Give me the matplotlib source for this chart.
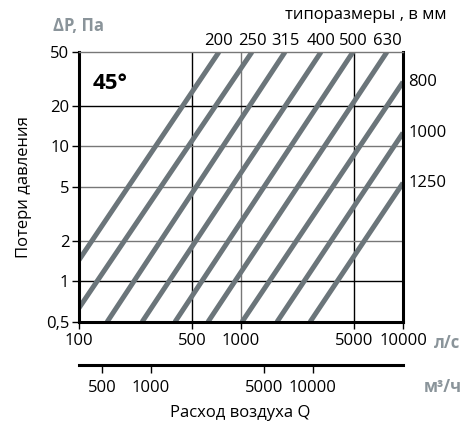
import numpy as np
import matplotlib.pyplot as plt
from matplotlib.ticker import FixedLocator, FixedFormatter, NullLocator

plt.rcParams['font.family'] = ['Open Sans', 'DejaVu Sans']

# duct sizes and endpoints of each pressure-loss line (l/s, Pa)
sizes = ['200', '250', '315', '400', '500', '630', '800', '1000', '1250']
q_start = [100, 100, 149, 245, 391, 625, 1014, 1667, 2667]
p_start = [1.44, 0.635, 0.5, 0.5, 0.5, 0.5, 0.5, 0.5, 0.5]
q_end = [731, 1169, 1870, 3119, 4911, 7960, 10000, 10000, 10000]
p_end = [50, 50, 50, 50, 50, 50, 30, 12.6, 5.36]

y_ticks = [0.5, 1, 2, 5, 10, 20, 50]
y_labels = ['0,5', '1', '2', '5', '10', '20', '50']
x_ticks = [100, 500, 1000, 5000, 10000]
m3_ticks = [500, 1000, 5000, 10000]

line_grey = '#6b757a'
text_grey = '#8a949a'
fs = 12

fig = plt.figure(figsize=(4.76, 4.26), dpi=100)
ax = fig.add_axes([79 / 476, 1 - 322 / 426, 324 / 476, 270 / 426])
ax.set_xscale('log')
ax.set_yscale('log')
ax.set_xlim(100, 10000)
ax.set_ylim(0.5, 50)

# grid: some black, some grey
for x, c in [(500, 'black'), (1000, '#777777'), (5000, 'black')]:
    ax.axvline(x, color=c, lw=1.0, zorder=1)
for y, c in [(1, 'black'), (2, '#777777'), (5, '#777777'), (10, '#777777'), (20, 'black')]:
    ax.axhline(y, color=c, lw=1.0, zorder=1)

for qs, ps, qe, pe in zip(q_start, p_start, q_end, p_end):
    ax.plot([qs, qe], [ps, pe], color=line_grey, lw=3.6, solid_capstyle='butt', zorder=2)

# size labels
for s, qe, pe in zip(sizes, q_end, p_end):
    if pe >= 50:
        ax.text(qe, 60.5, s, ha='center', va='center', fontsize=fs, clip_on=False)
    else:
        ax.text(10800, pe, s, ha='left', va='center', fontsize=fs, clip_on=False)

fig.text(285 / 476, 1 - 15 / 426, 'типоразмеры , в мм', fontsize=fs, ha='left', va='center')
fig.text(53 / 476, 1 - 26 / 426, 'ΔP, Па', fontsize=fs, fontweight='bold',
         color=text_grey, ha='left', va='center')
ax.text(0.043, 0.885, '45°', transform=ax.transAxes, fontsize=16,
        fontweight='bold', ha='left', va='center')

ax.yaxis.set_major_locator(FixedLocator(y_ticks))
ax.yaxis.set_major_formatter(FixedFormatter(y_labels))
ax.yaxis.set_minor_locator(NullLocator())
ax.xaxis.set_major_locator(FixedLocator(x_ticks))
ax.xaxis.set_major_formatter(FixedFormatter([str(v) for v in x_ticks]))
ax.xaxis.set_minor_locator(NullLocator())
ax.tick_params(axis='both', direction='out', length=5, width=1, labelsize=fs)
ax.tick_params(axis='y', pad=2)
ax.tick_params(axis='x', pad=3)

for side in ['left', 'bottom', 'right']:
    ax.spines[side].set_linewidth(2.2)
ax.spines['top'].set_linewidth(1.0)
ax.spines['top'].set_color('#777777')

ax.set_ylabel('Потери давления', fontsize=fs, labelpad=10)
fig.text(447 / 476, 1 - 343 / 426, 'л/с', fontsize=fs, fontweight='bold',
         color=text_grey, ha='center', va='center')

# second flow axis in m3/h
ax2 = fig.add_axes([79 / 476, 1 - 365 / 426, 324 / 476, 0.0001])
ax2.set_xscale('log')
ax2.set_xlim(360, 36000)
for side in ['left', 'right', 'top']:
    ax2.spines[side].set_visible(False)
ax2.spines['bottom'].set_linewidth(2.2)
ax2.set_yticks([])
ax2.xaxis.set_major_locator(FixedLocator(m3_ticks))
ax2.xaxis.set_major_formatter(FixedFormatter([str(v) for v in m3_ticks]))
ax2.xaxis.set_minor_locator(NullLocator())
ax2.tick_params(axis='x', direction='out', length=6, width=1, labelsize=fs, pad=5)
fig.text(443 / 476, 1 - 387 / 426, 'м³/ч', fontsize=fs, fontweight='bold',
         color=text_grey, ha='center', va='center')

fig.text(240 / 476, 1 - 413 / 426, 'Расход воздуха Q', fontsize=fs, ha='center', va='center')

fig.savefig('out.png', dpi=100)
